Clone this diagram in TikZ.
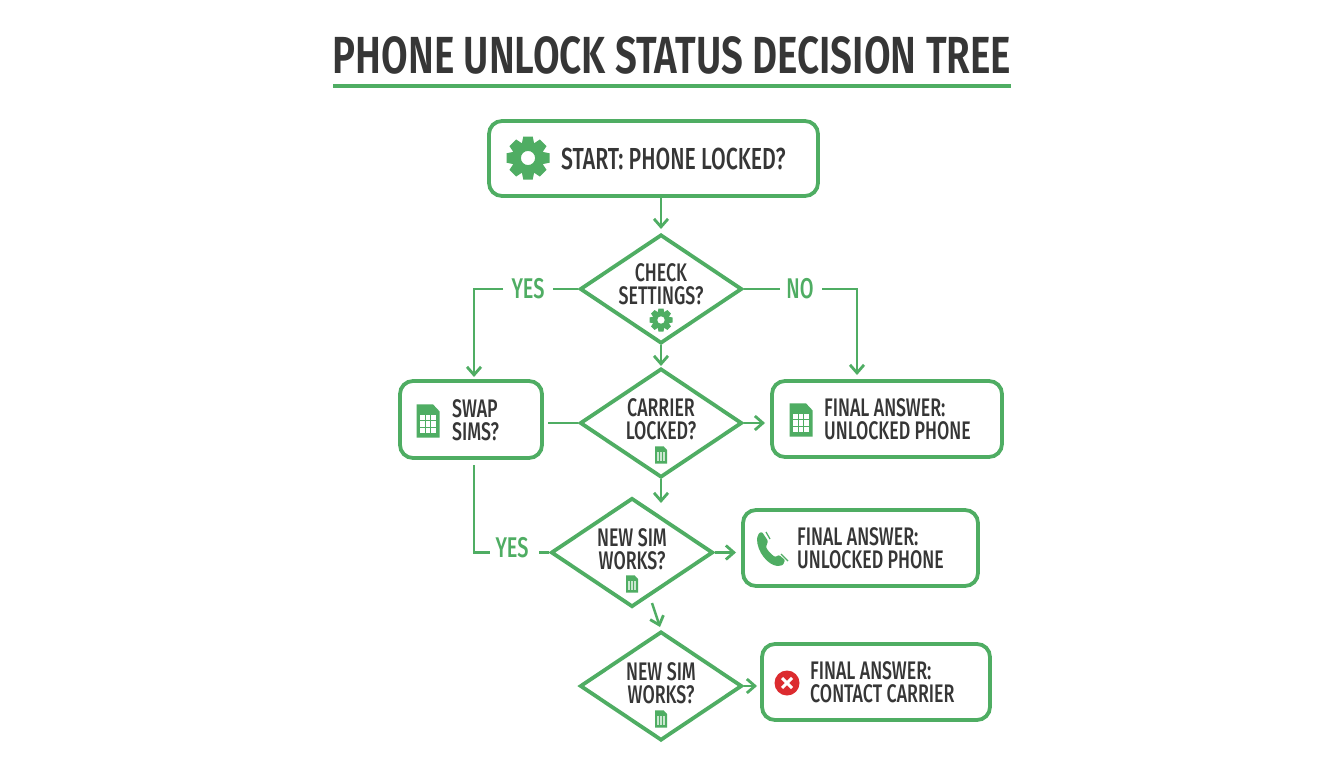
\documentclass[tikz,border=0pt]{standalone}
\usepackage{fontspec}
\setmainfont{Fira Sans}[UprightFont=* Medium,BoldFont=* SemiBold,FakeStretch=0.70]
\newfontface\titlefont{Fira Sans SemiBold}[FakeStretch=0.74]
\usetikzlibrary{shapes.geometric,arrows.meta,calc}
\definecolor{gr}{HTML}{4FAD63}
\definecolor{ink}{HTML}{363636}
\definecolor{bad}{HTML}{DC2B2F}
\tikzset{
  x=1pt,y=-1pt,
  box/.style={draw=gr,line width=3.8pt,rounded corners=13pt,fill=white,inner sep=0pt},
  dia/.style={draw=gr,line width=3.8pt,diamond,aspect=1.47,minimum width=162pt,minimum height=109pt,inner sep=0pt,fill=white},
  txt/.style={text=ink,align=left,inner sep=0pt,font=\fontsize{25.4}{23}\selectfont},
  dtxt/.style={text=ink,align=center,inner sep=0pt,font=\fontsize{25.4}{23}\selectfont},
  lab/.style={text=gr,inner sep=0pt,font=\fontsize{28.5}{27}\selectfont},
  con/.style={draw=gr,line width=2.4pt},
  arr/.style={con,-{Straight Barb[length=8pt,width=14pt,line width=2.8pt]}},
  pics/gearicon/.style={code={
    \foreach \a in {0,45,...,315}{\fill[gr,rotate=\a,rounded corners=0.05pt] (-.22,-1) -- (.22,-1) -- (.3,-.6) -- (-.3,-.6) -- cycle;}
    \fill[gr,even odd rule] (0,0) circle (.76) (0,0) circle (.33);
  }},
  pics/simicon/.style={code={
    \fill[gr,rounded corners=.06] (-.5,-.72) -- (.22,-.72) -- (.5,-.42) -- (.5,.72) -- (-.5,.72) -- cycle;
    \foreach \i in {-.25,0,.25}\foreach \j in {-.14,.13,.4}{\fill[white!#1!gr] (\i-.1,\j-.115) rectangle (\i+.1,\j+.115);}
  }},
}
\begin{document}
\begin{tikzpicture}
\useasboundingbox (0,0) rectangle (1344,768);
\fill[white] (0,0) rectangle (1344,768);
% title
\node[inner sep=0pt,text=ink,font=\titlefont\fontsize{52.2}{52}\selectfont] (title) at (672,55) {PHONE UNLOCK STATUS DECISION TREE};
\coordinate (ul) at (333,86); \coordinate (ur) at (1011,86);
\draw[gr,line width=4pt] (ul) -- (ur);
% boxes
\node[box,minimum width=329pt,minimum height=75pt] (start) at (653.5,158.5) {};
\node[box,minimum width=142pt,minimum height=77pt] (swap) at (471,419.5) {};
\node[box,minimum width=230pt,minimum height=76pt] (f1) at (887,419) {};
\node[box,minimum width=235pt,minimum height=76pt] (f2) at (860.5,548) {};
\node[box,minimum width=228pt,minimum height=76pt] (f3) at (876,682) {};
% diamonds
\node[dia] (d1) at (661,289) {};
\node[dia] (d2) at (661,423) {};
\node[dia] (d3) at (632,552.5) {};
\node[dia] (d4) at (661,686) {};
% texts
\node[txt,anchor=west,font=\fontsize{30.4}{27}\selectfont] (t0) at (561,159) {START: PHONE LOCKED?};
\node[dtxt] (t1) at (661,284) {CHECK\\SETTINGS?};
\node[dtxt] (t2) at (661,419) {CARRIER\\LOCKED?};
\node[dtxt] (t3) at (632,549) {NEW SIM\\WORKS?};
\node[dtxt] (t4) at (661,683) {NEW SIM\\WORKS?};
\node[txt,anchor=west] (ts) at (452,420) {SWAP\\SIMS?};
\node[txt,anchor=west] (tf1) at (824,419) {FINAL ANSWER:\\UNLOCKED PHONE};
\node[txt,anchor=west] (tf2) at (797,548) {FINAL ANSWER:\\UNLOCKED PHONE};
\node[txt,anchor=west] (tf3) at (810,682) {FINAL ANSWER:\\CONTACT CARRIER};
% labels
\node[lab] (yes1) at (528,289) {YES};
\node[lab] (no1) at (800,289) {NO};
\node[lab] (yes2) at (512,548) {YES};
% free ends
\coordinate (swapin) at (474,377);
\coordinate (f1in) at (857,375);
\coordinate (swapout) at (474,465);
\coordinate (swapr) at (548,423);
\coordinate (y2a) at (490,552.5);
\coordinate (y2b) at (539,552.5);
\coordinate (y1a) at (553,289);
\coordinate (y1b) at (503,289);
\coordinate (n1a) at (780,289);
\coordinate (n1b) at (822,289);
\coordinate (d3o) at (652,603);
\coordinate (d4i) at (660,627);
\coordinate (startout) at (661,198);
\coordinate (d1in) at (661,229);
\coordinate (d2in) at (661,366);
\coordinate (d3in) at (661,503);
\coordinate (f1arr) at (765,423);
\coordinate (f2arr) at (736,552.5);
\coordinate (f3arr) at (757,686);
% connectors
\draw[arr] (startout) -- (d1in);
\draw[con] (d1.west) -- (y1a);
\draw[arr] (y1b) -| (swapin);
\draw[con] (d1.east) -- (n1a);
\draw[arr] (n1b) -| (f1in);
\draw[arr] (d1.south) -- (d2in);
\draw[con] (swapr) -- (d2.west);
\draw[arr] (d2.east) -- (f1arr);
\draw[arr] (d2.south) -- (d3in);
\draw[con] (swapout) |- (y2a);
\draw[con] (y2b) -- (d3.west);
\draw[arr] (d3.east) -- (f2arr);
\draw[arr] (d3o) -- (d4i);
\draw[arr] (d4.east) -- (f3arr);
% icons
\pic[scale=21.5] at (528,158) {gearicon};
\pic[scale=11.5] at (661,320) {gearicon};
\pic[scale=23] at (428,421) {simicon=100};
\pic[scale=23] at (801,420) {simicon=100};
\pic[scale=12] at (661,455) {simicon=70};
\pic[scale=12] at (632,584) {simicon=70};
\pic[scale=12] at (661,719) {simicon=70};
% phone
\fill[gr,rounded corners=1pt] (757,538) .. controls (757,552) and (768,565) .. (778,566) -- (783,565) -- (785,560) -- (779,555) -- (775,557) .. controls (771,554) and (768,551) .. (766,547) -- (768,541) -- (762,532) -- (759,533) -- cycle;
\draw[gr,line width=1.2pt] (766,532) -- (770,539) (781,554) -- (788,561);
% cross
\fill[bad] (787,683) circle (12.5);
\draw[white,line width=3pt] (782,678) -- (792,688) (792,678) -- (782,688);
\end{tikzpicture}
\end{document}
